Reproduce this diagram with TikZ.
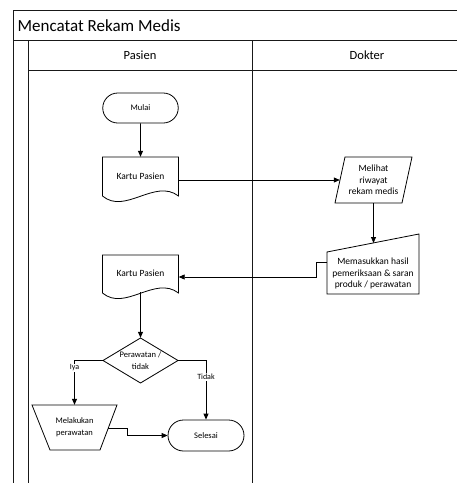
\documentclass[tikz,border=0pt]{standalone}
\usepackage{fontspec}
\setmainfont{Carlito}
\usetikzlibrary{shapes.misc,arrows.meta}
\begin{document}
\begin{tikzpicture}[x=1pt,y=-1pt, line join=miter,
  frame/.style={line width=0.9pt, draw=black!90},
  shp/.style={draw=black, line width=0.8pt, fill=white},
  arr/.style={line width=0.8pt, -{Triangle[length=6pt,width=5pt]}},
  lbl/.style={font=\fontsize{8}{9}\selectfont, fill=white, inner sep=1pt},
  txt/.style={align=center, inner sep=0pt},
  fs/.style={font=\fontsize{8.5}{12}\selectfont},
  fm/.style={font=\fontsize{9.5}{11.5}\selectfont},
  term/.style={shp, rounded rectangle, inner sep=0pt, fs},
]
\useasboundingbox (0,0) rectangle (457,483);
% frame
\draw[frame] (457,10.5) -- (13,10.5) -- (13,483);
\draw[frame] (13,40.5) -- (457,40.5);
\draw[frame] (28,40.5) -- (28,483);
\draw[frame] (28,70.7) -- (457,70.7);
\draw[frame] (252,40.5) -- (252,483);
\node[anchor=west, font=\fontsize{17}{19}\selectfont, inner sep=0pt] (title) at (17.5,26) {Mencatat Rekam Medis};
\node[font=\fontsize{12.5}{14}\selectfont, inner sep=0pt] (hp) at (140,55.6) {Pasien};
\node[font=\fontsize{12.5}{14}\selectfont, inner sep=0pt] (hd) at (367,55.6) {Dokter};

% Mulai
\node[term, minimum width=75.5pt, minimum height=30pt] (mulai) at (140.5,108) {Mulai};
% Kartu Pasien 1
\draw[shp] (102.5,157) -- (178.5,157) -- (178.5,196) .. controls (155,178) and (125,215) .. (102.5,196) -- cycle;
\node[txt, fm, minimum width=76pt, minimum height=39pt] (k1) at (140.5,176.5) {Kartu Pasien};
% Melihat
\draw[shp] (335,203) -- (345,157) -- (412,157) -- (402,203) -- cycle;
\node[txt, fm, minimum width=67pt, minimum height=46pt] (mel) at (373.5,180) {Melihat\\riwayat\\rekam medis};
% Manual input
\draw[shp] (327,252) -- (419,234) -- (419,294) -- (327,294) -- cycle;
\node[txt, fm, minimum width=92pt, minimum height=41pt] (mi) at (373,273.5) {Memasukkan hasil\\pemeriksaan \& saran\\produk / perawatan};
\coordinate (mitop) at (373.5,243);
\coordinate (miL) at (327,262);
% Kartu Pasien 2
\draw[shp] (102.5,255) -- (178.5,255) -- (178.5,293) .. controls (155,275) and (125,312) .. (102.5,293) -- cycle;
\node[txt, fm, minimum width=76pt, minimum height=38pt] (k2) at (140.5,273) {Kartu Pasien};
% Decision
\draw[shp] (103,360.5) -- (140.5,338) -- (178,360.5) -- (140.5,383) -- cycle;
\node[txt, fs, minimum width=75pt, minimum height=45pt] (dia) at (140.5,360.5) {Perawatan /\\tidak};
% Manual operation
\draw[shp] (32,405) -- (117,405) -- (100,450) -- (50,450) -- cycle;
\node[txt, fs, minimum width=85pt, minimum height=45pt] (trap) at (74.5,427.5) {Melakukan\\perawatan};
\coordinate (trR) at (108.3,428);
% Selesai
\node[term, minimum width=76pt, minimum height=31pt] (sel) at (206,435.5) {Selesai};

% connectors
\draw[arr] (mulai) -- (k1.north);
\draw[arr] (k1.east |- mel.west) -- (mel.west);
\draw[arr] (mel.south) -- (mitop);
\draw[arr] (miL) -- ++(-11,0) |- ([yshift=-4pt]k2.east);
\draw[arr] (k2.south) -- (dia.north);
\draw[arr] (dia.west) -| (trap.north) node[lbl, pos=0.585] {Iya};
\draw[arr] (dia.east) -| (sel.north) node[lbl, pos=0.64] {Tidak};
\draw[arr] (trR) -- ++(18.7,0) |- (sel.west);
\end{tikzpicture}
\end{document}
